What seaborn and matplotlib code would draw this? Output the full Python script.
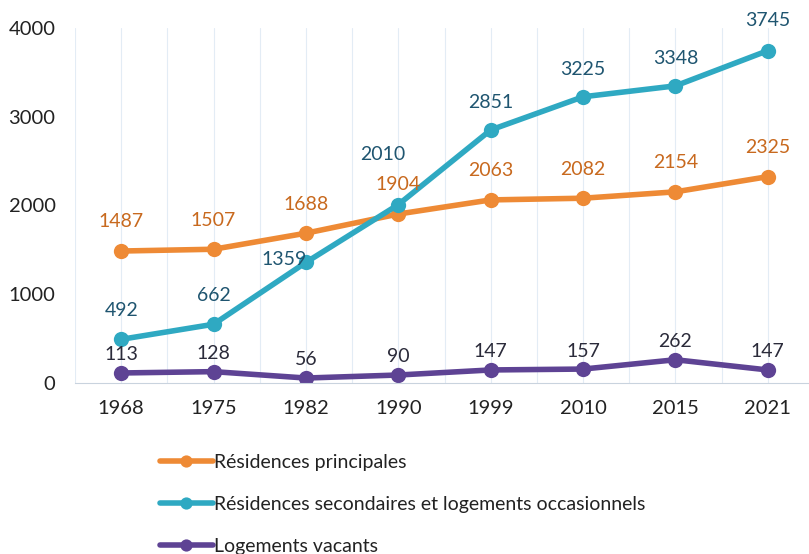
import pandas as pd
import numpy as np
import matplotlib.pyplot as plt
import seaborn as sns

annees = ['1968', '1975', '1982', '1990', '1999', '2010', '2015', '2021']
principales = [1487, 1507, 1688, 1904, 2063, 2082, 2154, 2325]
secondaires = [492, 662, 1359, 2010, 2851, 3225, 3348, 3745]
vacants = [113, 128, 56, 90, 147, 157, 262, 147]

noms = ['Résidences principales',
        'Résidences secondaires et logements occasionnels',
        'Logements vacants']
couleurs = ['#EE8A35', '#2FA9C2', '#5E4394']
couleurs_txt = ['#C8691E', '#1F5570', '#2B2B3A']

sns.set_style('white')
plt.rcParams['font.family'] = ['Lato', 'DejaVu Sans']

fig = plt.figure(figsize=(8.09, 5.54), dpi=100)
ax = fig.add_axes([75 / 809, 171 / 554, 739 / 809, 355 / 554])

# faint vertical grid like the original (category centres and boundaries)
for x in np.arange(-0.5, len(annees), 0.5):
    ax.axvline(x, color='#E3ECF5', lw=0.8, zorder=0)

df = pd.DataFrame({'annee': annees * 3,
                   'valeur': principales + secondaires + vacants,
                   'serie': [n for n in noms for _ in annees]})
df['x'] = list(range(len(annees))) * 3

for nom, c in zip(noms, couleurs):
    sub = df[df['serie'] == nom]
    sns.lineplot(x='x', y='valeur', data=sub, ax=ax, color=c, lw=4,
                 marker='o', markersize=11, markeredgewidth=0, label=nom)

# data labels (offsets in points, label centre relative to the point)
decal = {
    0: [(0, 21)] * 8,
    1: [(0, 21), (0, 21), (-16, 2), (-11, 36), (0, 20), (0, 20), (0, 20), (0, 22)],
    2: [(0, 13)] * 8,
}
for i, (vals, ct) in enumerate(zip([principales, secondaires, vacants], couleurs_txt)):
    for j, v in enumerate(vals):
        dx, dy = decal[i][j]
        ax.annotate(str(v), (j, v), xytext=(dx, dy), textcoords='offset points',
                    ha='center', va='center', fontsize=14, color=ct)

ax.set_xlim(-0.5, len(annees) - 0.5)
ax.set_ylim(0, 4000)
ax.set_yticks([0, 1000, 2000, 3000, 4000])
ax.set_xticks(range(len(annees)))
ax.set_xticklabels(annees)
ax.tick_params(axis='both', labelsize=14.5, colors='#222222', length=0)
ax.tick_params(axis='x', pad=12)
ax.tick_params(axis='y', pad=14)
ax.set_xlabel('')
ax.set_ylabel('')
for s in ['top', 'right', 'left']:
    ax.spines[s].set_visible(False)
ax.spines['bottom'].set_color('#C9D3DE')

h, l = ax.get_legend_handles_labels()
ax.get_legend().remove()
leg = fig.legend(h, l, loc='upper left', bbox_to_anchor=(160 / 809, 1 - 454 / 554),
                 frameon=False, fontsize=14, handlelength=2.7, handletextpad=0.1,
                 labelspacing=1.28, borderpad=0, borderaxespad=0, markerscale=0.8)
for t in leg.get_texts():
    t.set_color('#222222')

fig.savefig('out.png', dpi=100)
